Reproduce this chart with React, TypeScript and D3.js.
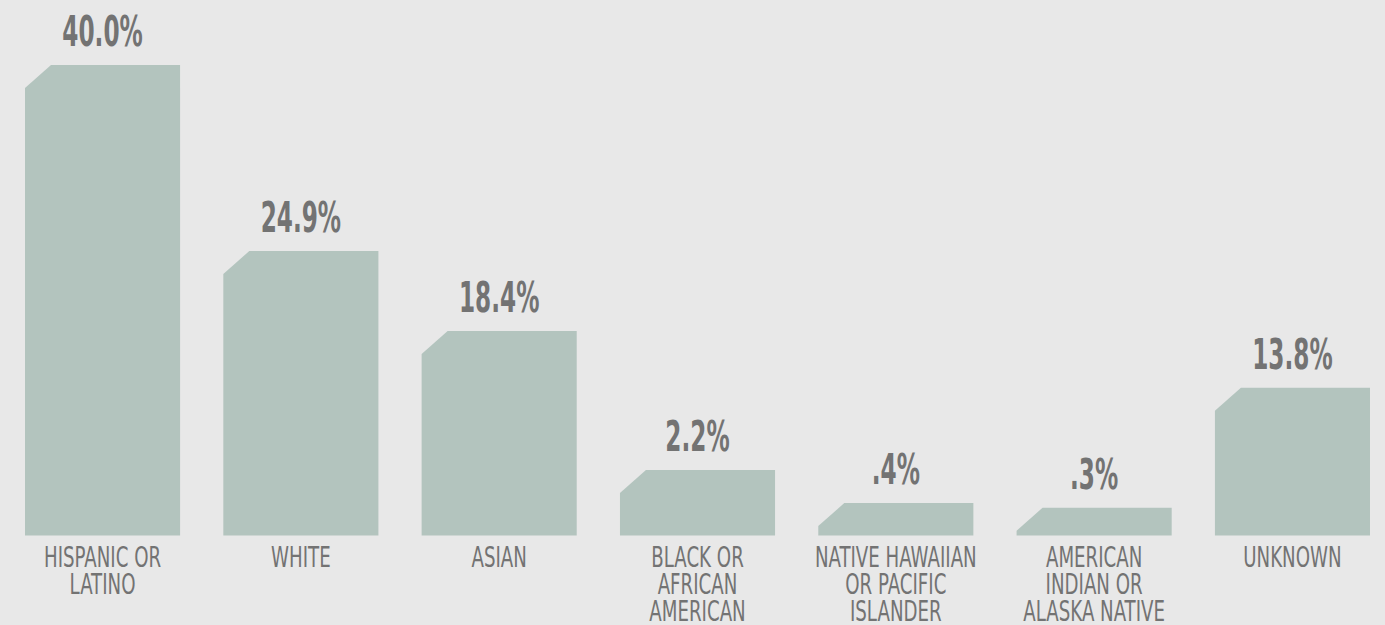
import React from "react";
import * as d3 from "d3";

const categories: string[][] = [
  ["HISPANIC OR", "LATINO"],
  ["WHITE"],
  ["ASIAN"],
  ["BLACK OR", "AFRICAN", "AMERICAN"],
  ["NATIVE HAWAIIAN", "OR PACIFIC", "ISLANDER"],
  ["AMERICAN", "INDIAN OR", "ALASKA NATIVE"],
  ["UNKNOWN"],
];
const values: number[] = [40.0, 24.9, 18.4, 2.2, 0.4, 0.3, 13.8];
const valueLabels: string[] = ["40.0%", "24.9%", "18.4%", "2.2%", ".4%", ".3%", "13.8%"];

const W = 1385;
const H = 625;
const BASE = 535.5;
const BG = "#e8e8e8";
const BAR = "#b3c4be";
const TXT = "#737373";
const FONT = "'DejaVu Sans Condensed', 'Liberation Sans Narrow', sans-serif";

export default function App() {
  const keys = categories.map((c) => c.join(" "));
  const x = d3.scaleBand<string>().domain(keys).range([25, 1370]).paddingInner(0.218).paddingOuter(0);
  // broken (piecewise) value scale, as in the original graphic
  const y = d3.scaleLinear().domain([0, 1, 10, 40]).range([BASE - 14, BASE - 60, BASE - 101, 65]);
  const bw = x.bandwidth();
  const cw = 26;
  const ch = 23;

  return (
    <svg width={W} height={H} style={{ position: "absolute", left: 0, top: 0, background: BG }}>
      <rect x={0} y={0} width={W} height={H} fill={BG} />
      {values.map((v, i) => {
        const x0 = x(keys[i]) as number;
        const top = y(v);
        const h = BASE - top;
        const cy = Math.min(ch, h);
        const cx = (cw * cy) / ch;
        const path = d3.path();
        path.moveTo(x0, BASE);
        path.lineTo(x0, top + cy);
        path.lineTo(x0 + cx, top);
        path.lineTo(x0 + bw, top);
        path.lineTo(x0 + bw, BASE);
        path.closePath();
        const cxm = x0 + bw / 2;
        return (
          <g key={keys[i]}>
            <path d={path.toString()} fill={BAR} />
            <text
              transform={`translate(${cxm},${top - 19}) scale(0.6,1)`}
              textAnchor="middle"
              fontFamily={FONT}
              fontWeight="bold"
              fontSize={43}
              fill={TXT}
            >
              {valueLabels[i]}
            </text>
            {categories[i].map((line, j) => (
              <text
                key={j}
                transform={`translate(${cxm},${567 + j * 27}) scale(0.71,1)`}
                textAnchor="middle"
                fontFamily={FONT}
                fontSize={28.5}
                fill={TXT}
              >
                {line}
              </text>
            ))}
          </g>
        );
      })}
    </svg>
  );
}
